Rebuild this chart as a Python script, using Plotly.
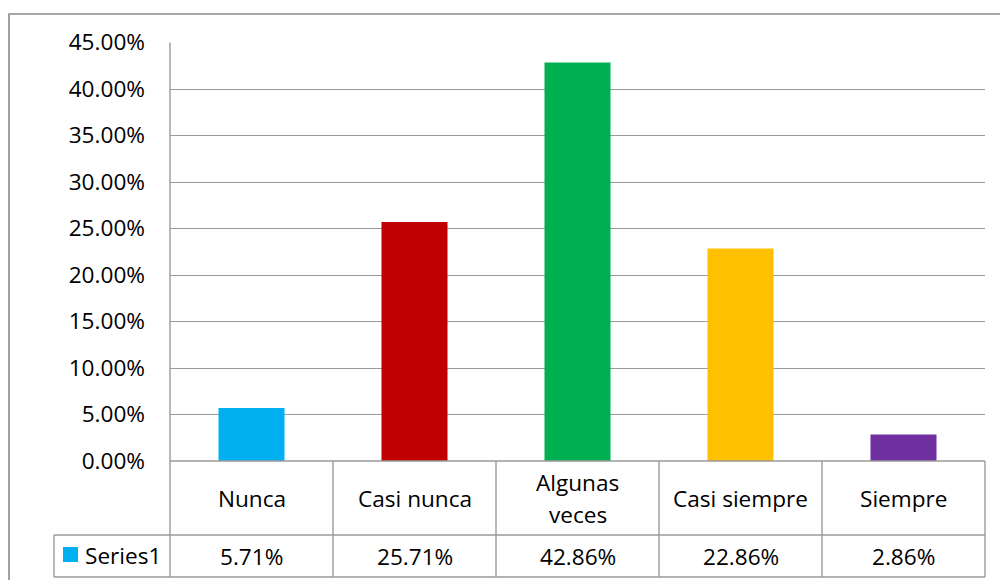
import plotly.graph_objects as go

categories = ["Nunca", "Casi nunca", "Algunas veces", "Casi siempre", "Siempre"]
cat_labels = [["Nunca"], ["Casi nunca"], ["Algunas", "veces"], ["Casi siempre"], ["Siempre"]]
values = [0.0571, 0.2571, 0.4286, 0.2286, 0.0286]
value_labels = ["5.71%", "25.71%", "42.86%", "22.86%", "2.86%"]
series_name = "Series1"
colors = ["#00B0F0", "#C00000", "#00B050", "#FFC000", "#7030A0"]

W, H = 1000, 580
FONT = "Open Sans"
FS = 22.6
GRID = "#9a9a9a"

def px(x):
    return x / W

def py(y):
    return 1 - y / H

x_left, x_right = 170, 985
y_top, y_zero = 42.5, 461
y_row2, y_bot = 535, 577

fig = go.Figure()
fig.add_trace(go.Bar(
    x=list(range(len(categories))), y=values, marker=dict(color=colors, line=dict(width=0)),
    name=series_name, showlegend=False, width=0.405,
))

fig.update_layout(
    width=W, height=H, margin=dict(l=0, r=0, t=0, b=0, pad=0, autoexpand=False),
    paper_bgcolor="white", plot_bgcolor="white", showlegend=False,
    font=dict(family=FONT, size=FS, color="#000000"),
    xaxis=dict(domain=[px(x_left), px(x_right)], range=[-0.5, 4.5], showticklabels=False,
               showgrid=False, zeroline=False, showline=False, fixedrange=True, automargin=False),
    yaxis=dict(domain=[py(y_zero), py(y_top)], range=[0, 0.45], dtick=0.05, tickformat=".2%",
               showgrid=True, gridcolor=GRID, gridwidth=1.3, zeroline=False, showline=False,
               automargin=False, fixedrange=True,
               ticks="", ticklabelstandoff=24, tickfont=dict(family=FONT, size=FS, color="#000")),
)

shapes = []
lw = 1.4
# outer border
shapes.append(dict(type="rect", xref="paper", yref="paper", x0=px(9), x1=px(1010), y0=py(590), y1=py(14),
                   line=dict(color="#8a8a8a", width=1.6), fillcolor="rgba(0,0,0,0)", layer="below"))
def hline(x0, x1, y):
    shapes.append(dict(type="line", xref="paper", yref="paper", x0=px(x0), x1=px(x1), y0=py(y), y1=py(y),
                       line=dict(color=GRID, width=lw)))
def vline(x, y0, y1):
    shapes.append(dict(type="line", xref="paper", yref="paper", x0=px(x), x1=px(x), y0=py(y0), y1=py(y1),
                       line=dict(color=GRID, width=lw)))
hline(x_left, x_right, y_zero)
hline(54, x_right, y_row2)
hline(54, x_right, y_bot)
vline(54, y_row2, y_bot)
vline(x_left, y_top, y_bot)
vline(x_right, y_zero, y_bot)
for i in range(1, len(categories)):
    shapes.append(dict(type="line", xref="x", yref="paper", x0=i - 0.5, x1=i - 0.5, y0=py(y_zero), y1=py(y_bot),
                       line=dict(color=GRID, width=lw)))
# legend key
shapes.append(dict(type="rect", xref="paper", yref="paper", x0=px(63), x1=px(78), y0=py(562), y1=py(547),
                   line=dict(width=0), fillcolor=colors[0]))
fig.update_layout(shapes=shapes)

ann = []
line_gap = 32
for i, (lines, vl) in enumerate(zip(cat_labels, value_labels)):
    n = len(lines)
    for k, txt in enumerate(lines):
        yc = 498 + (k - (n - 1) / 2) * line_gap
        ann.append(dict(x=i, y=py(yc), xref="x", yref="paper", text=txt, showarrow=False,
                        font=dict(size=FS), xanchor="center", yanchor="middle"))
    ann.append(dict(x=i, y=py(556), xref="x", yref="paper", text=vl, showarrow=False,
                    font=dict(size=FS), xanchor="center", yanchor="middle"))
ann.append(dict(x=px(83), y=py(555), xref="paper", yref="paper", text=series_name, showarrow=False,
                font=dict(size=FS), xanchor="left", yanchor="middle"))
fig.update_layout(annotations=ann)

fig.write_html("out.html")
